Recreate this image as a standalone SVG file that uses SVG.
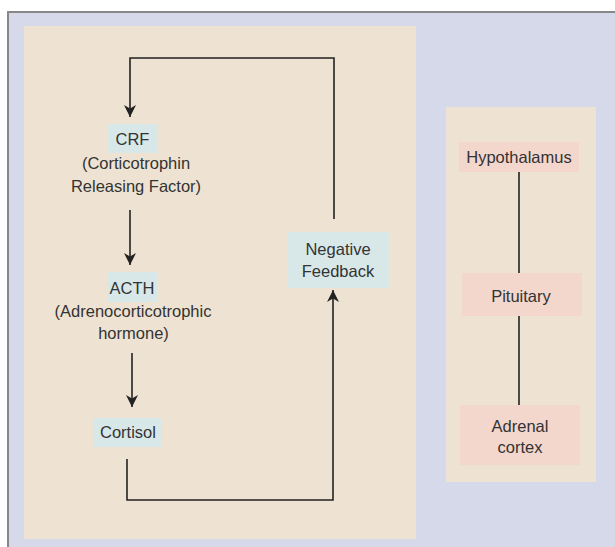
<svg xmlns="http://www.w3.org/2000/svg" width="615" height="547" viewBox="0 0 615 547">
<style>
.t{font-family:"Liberation Sans",Arial,sans-serif;font-size:16.5px;fill:#333;text-anchor:middle}
.blue{fill:#d8e8e8}
.pink{fill:#f3d6cc}
.ln{fill:none;stroke:#222;stroke-width:1.6}
</style>
<defs>
<marker id="ah" viewBox="-13 -7 14 14" refX="0" refY="0" markerWidth="14" markerHeight="14" markerUnits="userSpaceOnUse" orient="auto">
<path d="M0,0 L-12,-6 L-8.5,0 L-12,6 Z" fill="#222"/>
</marker>
</defs>
<rect x="0" y="0" width="615" height="547" fill="#ffffff"/>
<rect x="8" y="12" width="640" height="560" fill="#d6d9ea" stroke="#888" stroke-width="2"/>
<rect x="24" y="26" width="392" height="513" fill="#eee3d2"/>
<rect x="446" y="107" width="150" height="375" fill="#eee3d2"/>
<g id="connectors">
<path class="ln" d="M334 219 V58 H130 V117" marker-end="url(#ah)"/>
<path class="ln" d="M130 210 V265" marker-end="url(#ah)"/>
<path class="ln" d="M132 353 V407" marker-end="url(#ah)"/>
<path class="ln" d="M127 459 V500 H333 V290" marker-end="url(#ah)"/>
<path class="ln" d="M519 172 V273"/>
<path class="ln" d="M519 316 V405"/>
</g>
<g id="crf">
<rect class="blue" x="107" y="124" width="51" height="29"/>
<text class="t" x="132.5" y="145">CRF</text>
<text class="t" x="136" y="169">(Corticotrophin</text>
<text class="t" x="136" y="192">Releasing Factor)</text>
</g>
<g id="acth">
<rect class="blue" x="107" y="272" width="50" height="30"/>
<text class="t" x="132" y="294">ACTH</text>
<text class="t" x="133" y="317">(Adrenocorticotrophic</text>
<text class="t" x="133.5" y="339">hormone)</text>
</g>
<g id="cortisol">
<rect class="blue" x="93" y="418" width="69" height="29"/>
<text class="t" x="128" y="438">Cortisol</text>
</g>
<g id="feedback">
<rect class="blue" x="287" y="232" width="102" height="56"/>
<text class="t" x="338" y="255">Negative</text>
<text class="t" x="338" y="277">Feedback</text>
</g>
<g id="hypothalamus">
<rect class="pink" x="459" y="142" width="120" height="30"/>
<text class="t" x="519" y="163">Hypothalamus</text>
</g>
<g id="pituitary">
<rect class="pink" x="462" y="273" width="120" height="43"/>
<text class="t" x="521" y="302">Pituitary</text>
</g>
<g id="adrenal">
<rect class="pink" x="460" y="405" width="120" height="60"/>
<text class="t" x="520" y="432">Adrenal</text>
<text class="t" x="520" y="453">cortex</text>
</g>
</svg>
